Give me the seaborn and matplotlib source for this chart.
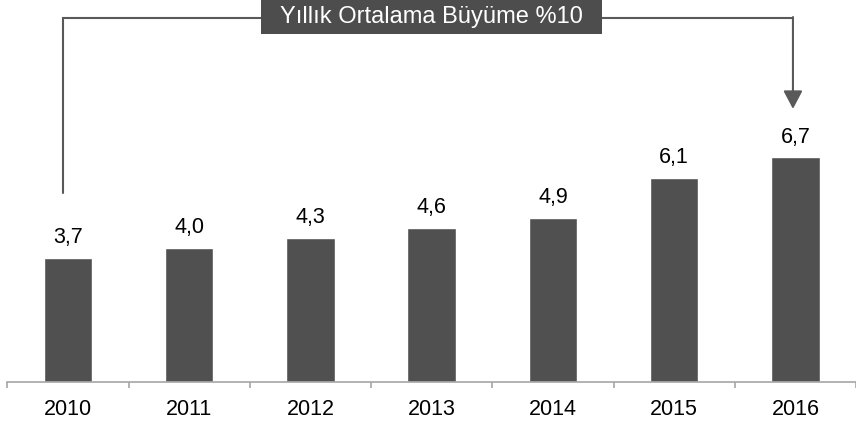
import matplotlib
matplotlib.use("Agg")
import matplotlib.pyplot as plt
import seaborn as sns
from matplotlib.patches import Rectangle

years = ["2010", "2011", "2012", "2013", "2014", "2015", "2016"]
values = [3.7, 4.0, 4.3, 4.6, 4.9, 6.1, 6.7]
labels = ["3,7", "4,0", "4,3", "4,6", "4,9", "6,1", "6,7"]
growth_text = "Yıllık Ortalama Büyüme %10"

sns.set_style("white")
plt.rcParams["font.family"] = ["Liberation Sans", "DejaVu Sans"]

bar_color = "#505050"
fig = plt.figure(figsize=(8.56, 4.28), dpi=100)
ax = fig.add_axes([0, 46 / 428, 1, 382 / 428])

sns.barplot(x=years, y=values, color=bar_color, saturation=1, width=0.4, ax=ax)
ax.bar_label(ax.containers[0], labels=labels, padding=7, fontsize=15.5, color="#000000")

ax.set_xlim(-0.56, 6.44)
ax.set_ylim(0, 11.4)
ax.set_xlabel("")
ax.set_ylabel("")
ax.set_yticks([])

for s in ["top", "right", "left"]:
    ax.spines[s].set_visible(False)
ax.spines["bottom"].set_color("#a6a6a6")
ax.spines["bottom"].set_linewidth(1.2)
ax.spines["bottom"].set_bounds(-0.5, len(years) - 0.5)

ax.set_xticks([i - 0.5 for i in range(len(years) + 1)], minor=True)
ax.tick_params(axis="x", which="minor", bottom=True, length=4.5, width=1.2,
               color="#a6a6a6", direction="out")
ax.tick_params(axis="x", which="major", length=0, pad=12, labelsize=15.5, labelcolor="#000000")

# bracket from first to last bar
line_color = "#595959"
first, last = 0, len(years) - 1
y_top = 10.87
ax.plot([first - 0.04, first - 0.04, last - 0.02], [values[first] + 1.94, y_top, y_top],
        color=line_color, lw=1.5, clip_on=False, zorder=3, solid_joinstyle="miter")
ax.annotate("", xy=(last - 0.02, values[last] + 1.45), xytext=(last - 0.02, y_top + 0.02),
            arrowprops=dict(arrowstyle="-|>,head_length=1.1,head_width=0.58",
                            color=line_color, lw=1.5, shrinkA=0, shrinkB=0),
            zorder=3)

mid = (first + last) / 2
ax.add_patch(Rectangle((mid - 1.405, 10.39), 2.81, 1.05, facecolor="#4d4d4d",
                       edgecolor="none", zorder=4, clip_on=False))
ax.text(mid, 10.88, growth_text, ha="center", va="center", fontsize=17,
        color="white", zorder=5)

fig.savefig("out.png", dpi=100)
